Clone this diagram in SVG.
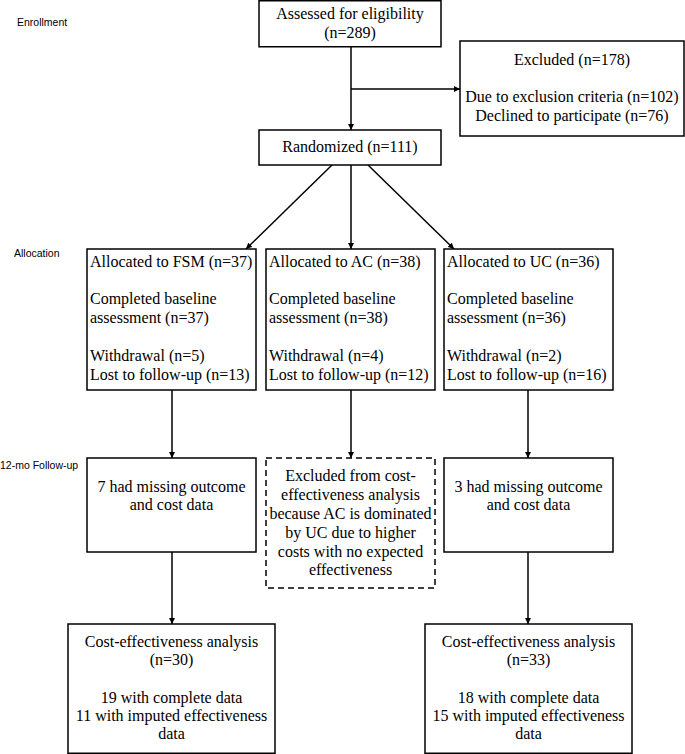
<svg xmlns="http://www.w3.org/2000/svg" width="685" height="754" viewBox="0 0 685 754">
<style>
.box{fill:#fff;stroke:#000;stroke-width:1.5}
.dash{fill:#fff;stroke:#000;stroke-width:1.5;stroke-dasharray:6 4}
.t{font-family:"Liberation Serif","Times New Roman",serif;font-size:16px;fill:#000}
.c{text-anchor:middle}
.lab{font-family:"Liberation Sans",Arial,sans-serif;font-size:10.5px;fill:#000}
.ln{stroke:#000;stroke-width:1.5;fill:none;marker-end:url(#ah)}
</style>
<defs>
<marker id="ah" viewBox="0 0 10 10" refX="10" refY="5" markerWidth="6" markerHeight="6" markerUnits="userSpaceOnUse" orient="auto">
<path d="M0,0 L10,5 L0,10 z" fill="#000"/>
</marker>
</defs>
<rect width="685" height="754" fill="#fff"/>
<g id="labels">
<text class="lab" x="17" y="26">Enrollment</text>
<text class="lab" x="14" y="257">Allocation</text>
<text class="lab" x="0" y="469">12-mo Follow-up</text>
</g>
<g id="connectors">
<line class="ln" x1="351" y1="47" x2="351" y2="130"/>
<line class="ln" x1="351" y1="89" x2="460" y2="89"/>
<line class="ln" x1="332" y1="165" x2="246" y2="249"/>
<line class="ln" x1="351" y1="165" x2="351" y2="249"/>
<line class="ln" x1="368" y1="165" x2="454" y2="249"/>
<line class="ln" x1="172" y1="390" x2="172" y2="458"/>
<line class="ln" x1="351" y1="390" x2="351" y2="458"/>
<line class="ln" x1="528" y1="390" x2="528" y2="458"/>
<line class="ln" x1="172" y1="552" x2="172" y2="624"/>
<line class="ln" x1="528" y1="552" x2="528" y2="624"/>
</g>
<g id="assessed">
<rect class="box" x="259" y="0.75" width="182" height="46"/>
<text class="t c" x="350" y="19">Assessed for eligibility</text>
<text class="t c" x="350" y="38">(n=289)</text>
</g>
<g id="excluded">
<rect class="box" x="460" y="41" width="224" height="95"/>
<text class="t c" x="572" y="65">Excluded (n=178)</text>
<text class="t c" x="572" y="102">Due to exclusion criteria (n=102)</text>
<text class="t c" x="572" y="121">Declined to participate (n=76)</text>
</g>
<g id="randomized">
<rect class="box" x="259" y="130" width="182" height="35"/>
<text class="t c" x="350" y="152">Randomized (n=111)</text>
</g>
<g id="alloc-fsm">
<rect class="box" x="87" y="249" width="169" height="141"/>
<text class="t" x="90" y="267">Allocated to FSM (n=37)</text>
<text class="t" x="90" y="304">Completed baseline</text>
<text class="t" x="90" y="323">assessment (n=37)</text>
<text class="t" x="90" y="361">Withdrawal (n=5)</text>
<text class="t" x="90" y="380">Lost to follow-up (n=13)</text>
</g>
<g id="alloc-ac">
<rect class="box" x="266" y="249" width="169" height="141"/>
<text class="t" x="269" y="267">Allocated to AC (n=38)</text>
<text class="t" x="269" y="304">Completed baseline</text>
<text class="t" x="269" y="323">assessment (n=38)</text>
<text class="t" x="269" y="361">Withdrawal (n=4)</text>
<text class="t" x="269" y="380">Lost to follow-up (n=12)</text>
</g>
<g id="alloc-uc">
<rect class="box" x="444" y="249" width="169" height="141"/>
<text class="t" x="447" y="267">Allocated to UC (n=36)</text>
<text class="t" x="447" y="304">Completed baseline</text>
<text class="t" x="447" y="323">assessment (n=36)</text>
<text class="t" x="447" y="361">Withdrawal (n=2)</text>
<text class="t" x="447" y="380">Lost to follow-up (n=16)</text>
</g>
<g id="fu-fsm">
<rect class="box" x="87" y="458" width="169" height="94"/>
<text class="t c" x="171.5" y="492">7 had missing outcome</text>
<text class="t c" x="171.5" y="510">and cost data</text>
</g>
<g id="fu-ac">
<rect class="dash" x="266" y="458" width="169" height="130"/>
<text class="t c" x="350.5" y="481">Excluded from cost-</text>
<text class="t c" x="350.5" y="500">effectiveness analysis</text>
<text class="t c" x="350.5" y="519">because AC is dominated</text>
<text class="t c" x="350.5" y="538">by UC due to higher</text>
<text class="t c" x="350.5" y="557">costs with no expected</text>
<text class="t c" x="350.5" y="575">effectiveness</text>
</g>
<g id="fu-uc">
<rect class="box" x="444" y="458" width="169" height="94"/>
<text class="t c" x="528.5" y="492">3 had missing outcome</text>
<text class="t c" x="528.5" y="510">and cost data</text>
</g>
<g id="cea-fsm">
<rect class="box" x="68" y="624" width="207" height="129.25"/>
<text class="t c" x="171.5" y="647">Cost-effectiveness analysis</text>
<text class="t c" x="171.5" y="665">(n=30)</text>
<text class="t c" x="171.5" y="703">19 with complete data</text>
<text class="t c" x="171.5" y="721">11 with imputed effectiveness</text>
<text class="t c" x="171.5" y="739">data</text>
</g>
<g id="cea-uc">
<rect class="box" x="425" y="624" width="207" height="129.25"/>
<text class="t c" x="528.5" y="647">Cost-effectiveness analysis</text>
<text class="t c" x="528.5" y="665">(n=33)</text>
<text class="t c" x="528.5" y="703">18 with complete data</text>
<text class="t c" x="528.5" y="721">15 with imputed effectiveness</text>
<text class="t c" x="528.5" y="739">data</text>
</g>
</svg>
